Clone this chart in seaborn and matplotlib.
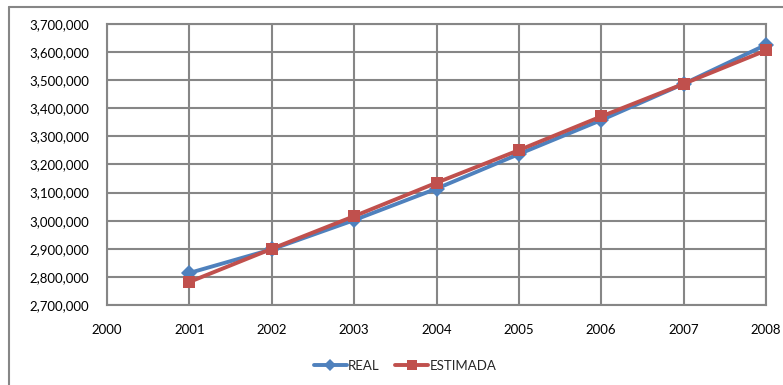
import matplotlib
matplotlib.use("Agg")
import matplotlib.pyplot as plt
from matplotlib.lines import Line2D
import seaborn as sns
import pandas as pd

# Population series by year
years = [2001, 2002, 2003, 2004, 2005, 2006, 2007, 2008]
real = [2814000, 2898000, 3002000, 3114000, 3237000, 3358000, 3487000, 3626000]
estimada = [2782000, 2900000, 3016000, 3135000, 3251000, 3371000, 3487000, 3606000]
series_names = ["REAL", "ESTIMADA"]
x_ticks = [2000, 2001, 2002, 2003, 2004, 2005, 2006, 2007, 2008]
y_ticks = list(range(2700000, 3700001, 100000))

df = pd.DataFrame({
    "year": years * 2,
    "value": real + estimada,
    "serie": [series_names[0]] * len(years) + [series_names[1]] * len(years),
})

sns.set_theme(style="white")
plt.rcParams["font.family"] = ["Lato", "DejaVu Sans"]

blue = "#4F81BD"
red = "#C0504D"
grid_c = "#868686"

fig = plt.figure(figsize=(7.83, 3.85), dpi=100)
ax = fig.add_axes([107 / 783, 1 - 305 / 385, (766 - 107) / 783, (305 - 24) / 385])

sns.lineplot(
    data=df, x="year", y="value", hue="serie", style="serie",
    palette={"REAL": blue, "ESTIMADA": red},
    markers={"REAL": "D", "ESTIMADA": "s"}, dashes=False,
    markersize=8.5, linewidth=2.8, markeredgewidth=0,
    legend=False, ax=ax, zorder=3,
)
for ln in ax.lines:
    ln.set_clip_on(False)

ax.set_xlim(2000, 2008)
ax.set_ylim(2700000, 3700000)
ax.set_xticks(x_ticks)
ax.set_yticks(y_ticks)
ax.set_yticklabels([f"{v:,}" for v in y_ticks])
ax.set_xlabel("")
ax.set_ylabel("")
ax.tick_params(axis="both", labelsize=9.5, colors="black", length=0)
ax.tick_params(axis="x", pad=14)
ax.tick_params(axis="y", pad=13)

ax.grid(True, color=grid_c, linewidth=1.5)
ax.set_axisbelow(True)
for s in ax.spines.values():
    s.set_color(grid_c)
    s.set_linewidth(1.5)

handles = [
    Line2D([], [], color=blue, marker="D", markersize=6.5, linewidth=2.8, markeredgewidth=0),
    Line2D([], [], color=red, marker="s", markersize=7.5, linewidth=2.8, markeredgewidth=0),
]
fig.legend(handles, series_names, loc="center", bbox_to_anchor=(405 / 783, 1 - 366 / 385),
           ncol=2, frameon=False, fontsize=9.5, handlelength=2.5, handletextpad=0.1,
           columnspacing=1.2)

# outer chart border (left and top edges)
fig.add_artist(Line2D([9 / 783, 9 / 783], [0, 1 - 7 / 385], transform=fig.transFigure,
                      color=grid_c, linewidth=1.5))
fig.add_artist(Line2D([9 / 783, 1], [1 - 7 / 385, 1 - 7 / 385], transform=fig.transFigure,
                      color=grid_c, linewidth=1.5))

fig.savefig("out.png", dpi=100)
